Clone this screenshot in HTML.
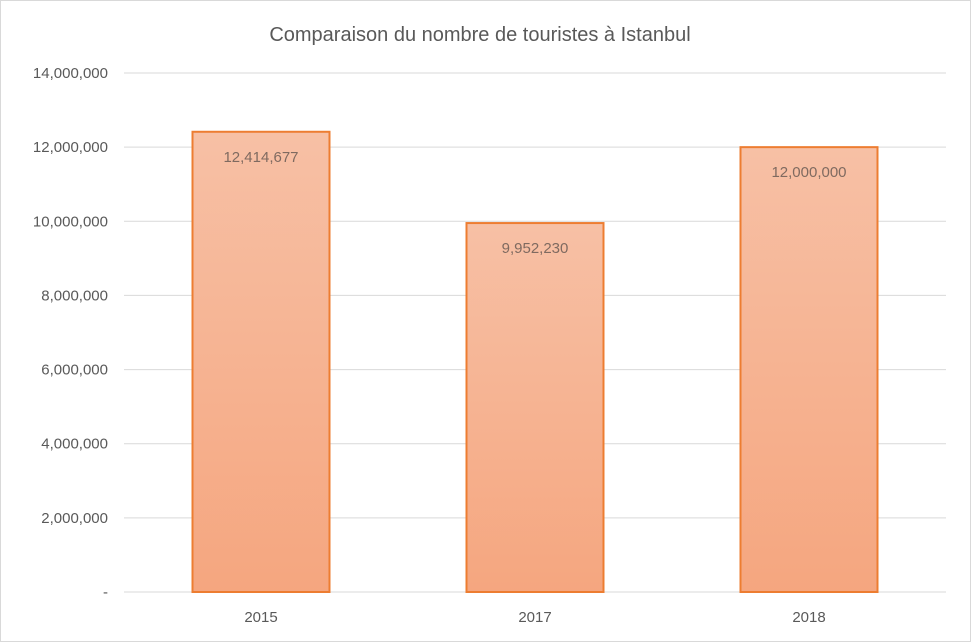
<!DOCTYPE html>
<html><head><meta charset="utf-8"><style>
html,body{margin:0;padding:0;background:#fff}
svg{display:block;font-family:"Liberation Sans",sans-serif}
</style></head><body>
<svg id="chart" width="971" height="642">
<defs><linearGradient id="g" x1="0" y1="0" x2="0" y2="1">
<stop offset="0" stop-color="#f7c0a5"/><stop offset="1" stop-color="#f5a67f"/></linearGradient></defs>
<rect x="0.5" y="0.5" width="970" height="641" fill="#fff" stroke="#d9d9d9"/>
<text x="480" y="41" text-anchor="middle" font-size="20" fill="#595959">Comparaison  du nombre de touristes à Istanbul</text>
<g id="grid"></g><g id="bars"></g>
</svg>
<script>
const categories = ["2015","2017","2018"];
const values = [12414677, 9952230, 12000000];
const labels = ["12,414,677","9,952,230","12,000,000"];
const ticks = [0,2000000,4000000,6000000,8000000,10000000,12000000,14000000];
const tickLabels = ["-","2,000,000","4,000,000","6,000,000","8,000,000","10,000,000","12,000,000","14,000,000"];
const NS="http://www.w3.org/2000/svg";
const x0=124,x1=946,y0=592,yTop=73,yMax=14000000;
const y=v=>y0-(v/yMax)*(y0-yTop);
const bw=(x1-x0)/categories.length;
const xc=i=>x0+bw*(i+0.5);
const grid=document.getElementById('grid'),bars=document.getElementById('bars');
function mk(t,a,p){const e=document.createElementNS(NS,t);for(const k in a)e.setAttribute(k,a[k]);p.appendChild(e);return e;}
ticks.forEach((t,i)=>{
 const l=mk('line',{x1:x0,x2:x1,y1:y(t),y2:y(t),stroke:'#d9d9d9','stroke-width':1},grid);
 
 
 const tx=mk('text',{x:108,y:y(t)+5,'text-anchor':'end','font-size':15,fill:'#595959'},grid);
 tx.textContent=tickLabels[i];
 
 
});
categories.forEach((c,i)=>{
 const w=bw*0.5;
 const r=mk('rect',{x:xc(i)-w/2,y:y(values[i]),width:w,height:y0-y(values[i]),fill:'url(#g)',stroke:'#ed7d31','stroke-width':2},bars);
 
 
 const lb=mk('text',{x:xc(i),y:y(values[i])+30,'text-anchor':'middle','font-size':15,fill:'#7f6a60'},bars);
 lb.textContent=labels[i];
 
 
 const xl=mk('text',{x:xc(i),y:622,'text-anchor':'middle','font-size':15,fill:'#595959'},bars);
 xl.textContent=c;
 
 
});
</script>
</body></html>
